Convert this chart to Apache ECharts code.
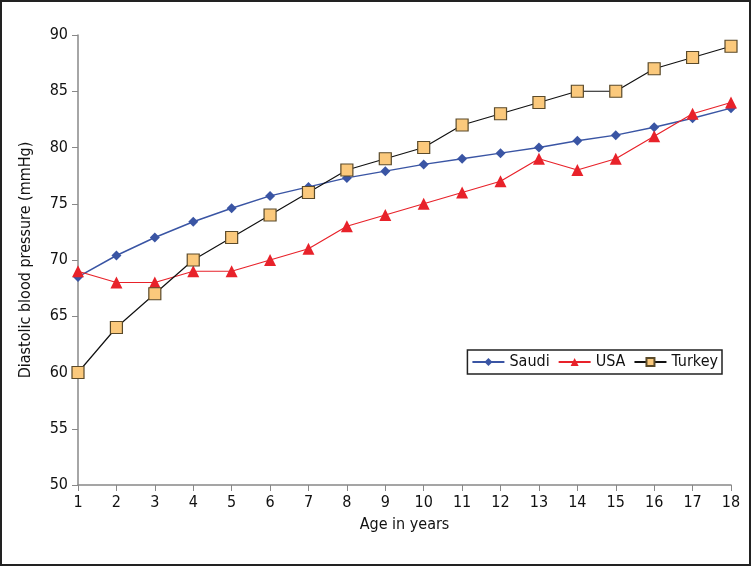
<!DOCTYPE html>
<html><head><meta charset="utf-8">
<script src="https://cdn.jsdelivr.net/npm/echarts@6/dist/echarts.min.js"></script>
<style>
html,body{margin:0;padding:0;background:#fff;}
#c{width:751px;height:566px;box-sizing:border-box;border:2px solid #222;}
</style></head>
<body><div id="c"></div>
<script>
const ages = ['1','2','3','4','5','6','7','8','9','10','11','12','13','14','15','16','17','18'];
const saudi = [68.5,70.4,72.0,73.4,74.6,75.7,76.5,77.3,77.9,78.5,79.0,79.5,80.0,80.6,81.1,81.8,82.6,83.5];
const usa = [69,68,68,69,69,70,71,73,74,75,76,77,79,78,79,81,83,84];
const turkey = [60,64,67,70,72,74,76,78,79,80,82,83,84,85,85,87,88,89];
const font = '"Liberation Sans Narrow","DejaVu Sans Condensed",sans-serif';
const chart = echarts.init(document.getElementById('c'));
chart.setOption({
  animation:false,
  textStyle:{fontFamily:font},
  grid:{left:76,right:18,top:33,bottom:79},
  legend:{
    right:27, top:348, orient:'horizontal',
    borderColor:'#222', borderWidth:1.5, padding:[4,4,4,4],
    itemWidth:32, itemHeight:10, itemGap:8,
    textStyle:{fontFamily:font,fontSize:16,color:'#111'},
    data:['Saudi','USA','Turkey']
  },
  xAxis:{
    type:'category', data:ages, boundaryGap:false,
    name:'Age in years', nameLocation:'middle', nameGap:32,
    nameTextStyle:{fontFamily:font,fontSize:16,color:'#111'},
    axisLine:{lineStyle:{color:'#888',width:1.5}},
    axisTick:{show:true,alignWithLabel:true,length:6,lineStyle:{color:'#888'}},
    axisLabel:{fontFamily:font,fontSize:16,color:'#111',margin:10,interval:0},
    splitLine:{show:false}
  },
  yAxis:{
    type:'value', min:50, max:90, interval:5,
    name:'Diastolic blood pressure (mmHg)', nameLocation:'middle', nameGap:44,
    nameTextStyle:{fontFamily:font,fontSize:16,color:'#111'},
    axisLine:{show:true,lineStyle:{color:'#888',width:1.5}},
    axisTick:{show:true,length:6,lineStyle:{color:'#888'}},
    axisLabel:{fontFamily:font,fontSize:16,color:'#111',margin:10},
    splitLine:{show:false}
  },
  series:[
    {name:'Saudi',type:'line',data:saudi,symbol:'diamond',symbolSize:10,
     lineStyle:{color:'#3A55A4',width:1.5},itemStyle:{color:'#3A55A4'}},
    {name:'USA',type:'line',data:usa,symbol:'triangle',symbolSize:12,
     lineStyle:{color:'#E8222A',width:1.2},itemStyle:{color:'#E8222A'}},
    {name:'Turkey',type:'line',data:turkey,symbol:'rect',symbolSize:12,
     lineStyle:{color:'#111',width:1.2},itemStyle:{color:'#FBC97C',borderColor:'#5a4a2a',borderWidth:1.2}}
  ]
});
</script></body></html>
